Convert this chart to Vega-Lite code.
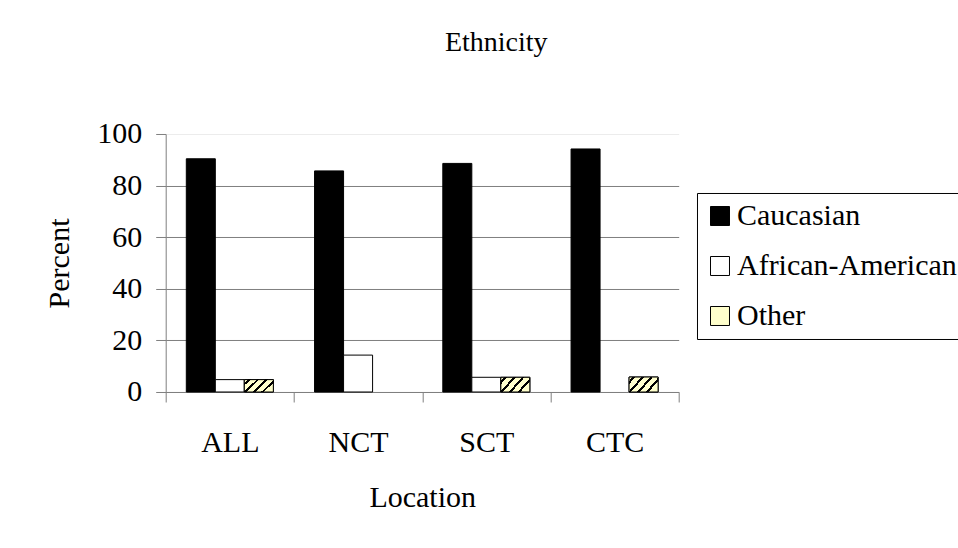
{
  "$schema": "https://vega.github.io/schema/vega-lite/v6.json",
  "width": 513,
  "height": 258,
  "autosize": {"type": "none"},
  "padding": {"left": 165.7, "top": 134, "right": 279.3, "bottom": 156.3},
  "background": "white",
  "config": {"view": {"stroke": null}},
  "title": {
    "text": "Ethnicity",
    "font": "Liberation Serif",
    "fontSize": 28,
    "fontWeight": "normal",
    "color": "black",
    "anchor": "middle",
    "frame": "group",
    "dx": 74,
    "offset": 62
  },
  "data": {
    "values": [
      {"Location": "ALL", "Ethnicity": "Caucasian", "Percent": 90.4},
      {"Location": "ALL", "Ethnicity": "African-American", "Percent": 4.8},
      {"Location": "ALL", "Ethnicity": "Other", "Percent": 4.8},
      {"Location": "NCT", "Ethnicity": "Caucasian", "Percent": 85.7},
      {"Location": "NCT", "Ethnicity": "African-American", "Percent": 14.3},
      {"Location": "SCT", "Ethnicity": "Caucasian", "Percent": 88.6},
      {"Location": "SCT", "Ethnicity": "African-American", "Percent": 5.7},
      {"Location": "SCT", "Ethnicity": "Other", "Percent": 5.7},
      {"Location": "CTC", "Ethnicity": "Caucasian", "Percent": 94.2},
      {"Location": "CTC", "Ethnicity": "Other", "Percent": 5.8}
    ]
  },
  "encoding": {
    "x": {
      "field": "Location",
      "type": "nominal",
      "sort": ["ALL", "NCT", "SCT", "CTC"],
      "scale": {"paddingInner": 0, "paddingOuter": 0},
      "axis": {
        "title": "Location",
        "labelAngle": 0,
        "tickBand": "extent",
        "tickSize": 10,
        "tickColor": "#808080",
        "domainColor": "#808080",
        "labelFont": "Liberation Serif",
        "labelFontSize": 30,
        "labelColor": "black",
        "labelPadding": 26,
        "titleFont": "Liberation Serif",
        "titleFontSize": 30,
        "titleFontWeight": "normal",
        "titleColor": "black",
        "titlePadding": 25,
        "grid": false
      }
    },
    "xOffset": {
      "field": "Ethnicity",
      "type": "nominal",
      "scale": {
        "domain": ["Caucasian", "African-American", "Other"],
        "paddingInner": 0,
        "paddingOuter": 0.71
      }
    },
    "y": {
      "field": "Percent",
      "type": "quantitative",
      "scale": {"domain": [0, 100], "nice": false},
      "axis": {
        "title": "Percent",
        "values": [0, 20, 40, 60, 80, 100],
        "grid": true,
        "gridColor": {"condition": {"test": "datum.value === 100", "value": "#ececec"}, "value": "#808080"},
        "gridWidth": 1,
        "domainColor": "#808080",
        "tickColor": "#808080",
        "tickSize": 10,
        "labelFont": "Liberation Serif",
        "labelFontSize": 30,
        "labelColor": "black",
        "labelPadding": 14,
        "titleFont": "Liberation Serif",
        "titleFontSize": 30,
        "titleFontWeight": "normal",
        "titleColor": "black",
        "titlePadding": 22
      }
    }
  },
  "layer": [
    {
      "mark": {"type": "bar", "stroke": "black", "strokeWidth": 1},
      "encoding": {
        "fill": {
          "field": "Ethnicity",
          "type": "nominal",
          "scale": {
            "domain": ["Caucasian", "African-American", "Other"],
            "range": ["black", "white", "#ffffcc"]
          },
          "legend": {
            "title": null,
            "orient": "none",
            "legendX": 531.3,
            "legendY": 59,
            "direction": "vertical",
            "symbolType": "square",
            "symbolSize": 360,
            "symbolStrokeColor": "black",
            "symbolStrokeWidth": 1,
            "labelFont": "Liberation Serif",
            "labelFontSize": 30,
            "labelColor": "black",
            "labelLimit": 400,
            "labelOffset": 2,
            "rowPadding": 20,
            "padding": 8,
            "strokeColor": "black",
            "fillColor": "white",
            "encode": {
              "symbols": {
                "update": {
                  "stroke": {"value": "black"},
                  "strokeWidth": {"value": 1},
                  "fill": [
                    {
                      "test": "datum.label === 'Other'",
                      "value": {
                        "gradient": "linear",
                        "x1": 0, "y1": 0, "x2": 1, "y2": 1,
                        "stops": [
                          {"offset": 0, "color": "#ffffcc"},
                          {"offset": 0.38, "color": "#ffffcc"},
                          {"offset": 0.38, "color": "black"},
                          {"offset": 0.62, "color": "black"},
                          {"offset": 0.62, "color": "#ffffcc"},
                          {"offset": 1, "color": "#ffffcc"}
                        ]
                      }
                    },
                    {"scale": "fill", "field": "value"}
                  ]
                }
              }
            }
          }
        }
      }
    },
    {
      "transform": [{"filter": "datum.Ethnicity === 'Other'"}],
      "mark": {
        "type": "bar",
        "stroke": "black",
        "strokeWidth": 1,
        "fill": {
          "gradient": "linear",
          "x1": 0, "y1": 0, "x2": 1, "y2": 0.45,
          "stops": [
            {"offset": 0, "color": "#ffffcc"},
            {"offset": 0.1, "color": "#ffffcc"},
            {"offset": 0.1, "color": "black"},
            {"offset": 0.18, "color": "black"},
            {"offset": 0.18, "color": "#ffffcc"},
            {"offset": 0.35, "color": "#ffffcc"},
            {"offset": 0.35, "color": "black"},
            {"offset": 0.43, "color": "black"},
            {"offset": 0.43, "color": "#ffffcc"},
            {"offset": 0.6, "color": "#ffffcc"},
            {"offset": 0.6, "color": "black"},
            {"offset": 0.68, "color": "black"},
            {"offset": 0.68, "color": "#ffffcc"},
            {"offset": 0.85, "color": "#ffffcc"},
            {"offset": 0.85, "color": "black"},
            {"offset": 0.93, "color": "black"},
            {"offset": 0.93, "color": "#ffffcc"},
            {"offset": 1, "color": "#ffffcc"}
          ]
        }
      }
    }
  ]
}
